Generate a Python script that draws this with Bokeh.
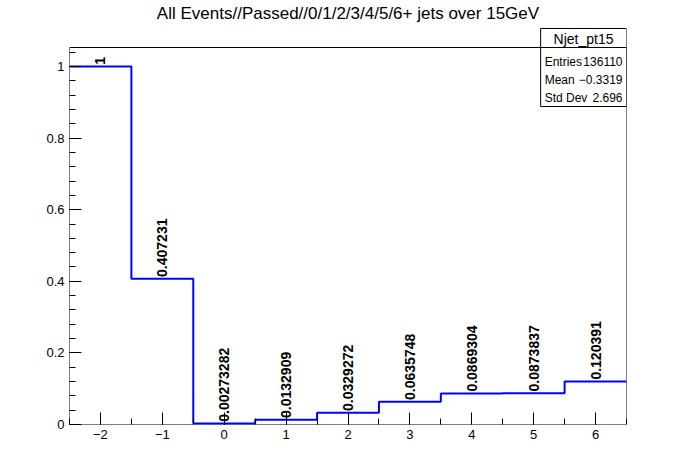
import numpy as np
from bokeh.plotting import figure
from bokeh.models import FixedTicker, Range1d
from bokeh.core.properties import value
from bokeh.embed import file_html
from bokeh.resources import INLINE

bin_centers = [-2, -1, 0, 1, 2, 3, 4, 5, 6]
bin_values = [1, 0.407231, 0.00273282, 0.0132909, 0.0329272, 0.0635748, 0.0869304, 0.0873837, 0.120391]
bin_labels = ["1", "0.407231", "0.00273282", "0.0132909", "0.0329272", "0.0635748", "0.0869304", "0.0873837", "0.120391"]
title_text = "All Events//Passed//0/1/2/3/4/5/6+ jets over 15GeV"
stats_name = "Njet_pt15"
stats_keys = ["Entries", "Mean", "Std Dev"]
stats_vals = ["136110", "\u22120.3319", "2.696"]

FONT = "Liberation Sans"


def py(pix):  # reference pixel row -> data y
    return 1 + (66 - pix) / 358.0


def px(pix):  # reference pixel column -> data x
    return -2 + (pix - 100) / 62.0


xlo, xhi = -2.5, 6.5
ytop = py(47)

p = figure(width=696, height=472, output_backend="svg", toolbar_location=None,
           x_range=Range1d(xlo, xhi), y_range=Range1d(0, py(0)),
           min_border_left=69, min_border_right=70, min_border_top=0, min_border_bottom=48)
p.outline_line_color = None
p.grid.visible = False
p.background_fill_color = "white"

for ax in (p.xaxis[0], p.yaxis[0]):
    ax.axis_line_color = None
    ax.major_tick_in = 12
    ax.major_tick_out = 0
    ax.minor_tick_in = 6
    ax.minor_tick_out = 0
    ax.major_label_text_font = FONT
    ax.major_label_text_font_size = "13px"
    ax.major_label_text_color = "black"
    ax.major_tick_line_color = "black"
    ax.minor_tick_line_color = "black"

p.xaxis.ticker = FixedTicker(ticks=bin_centers, minor_ticks=list(np.arange(-2.5, 6.51, 0.5)))
p.yaxis.ticker = FixedTicker(ticks=[0, 0.2, 0.4, 0.6, 0.8, 1.0],
                             minor_ticks=list(np.round(np.arange(0, 1.05, 0.04), 2)))
p.yaxis.formatter.use_scientific = False

# frame
p.quad(left=[xlo], right=[xhi], bottom=[0], top=[ytop], fill_color=None, line_color="black", line_width=1)

# histogram
edges = [c - 0.5 for c in bin_centers] + [xhi]
p.step(x=edges, y=bin_values + [bin_values[-1]], mode="after", line_color="#0000ff", line_width=2)

# bin labels
p.text(x=bin_centers, y=[v + 0.005 for v in bin_values], text=bin_labels, angle=np.pi / 2,
       text_align="left", text_baseline="middle", text_font=value(FONT), text_font_size="14px",
       text_font_style="bold", text_color="black")

# title
p.text(x=[2], y=[py(13)], text=[title_text], text_align="center", text_baseline="middle",
       text_font=value(FONT), text_font_size="17px", text_color="black")

# stats box
p.quad(left=[px(541)], right=[xhi], bottom=[py(106)], top=[py(28)], fill_color="white",
       line_color="black", line_width=1)
p.segment(x0=[px(541)], x1=[xhi], y0=[ytop], y1=[ytop], line_color="black")
p.text(x=[(px(541) + xhi) / 2], y=[py(38)], text=[stats_name], text_align="center",
       text_baseline="middle", text_font=value(FONT), text_font_size="14px", text_color="black")
rows = [py(61), py(79), py(97)]
p.text(x=[px(545)] * 3, y=rows, text=stats_keys, text_align="left", text_baseline="middle",
       text_font=value(FONT), text_font_size="12px", text_color="black")
p.text(x=[px(623)] * 3, y=rows, text=stats_vals, text_align="right", text_baseline="middle",
       text_font=value(FONT), text_font_size="12px", text_color="black")

open("out.html", "w").write(file_html(p, INLINE))
